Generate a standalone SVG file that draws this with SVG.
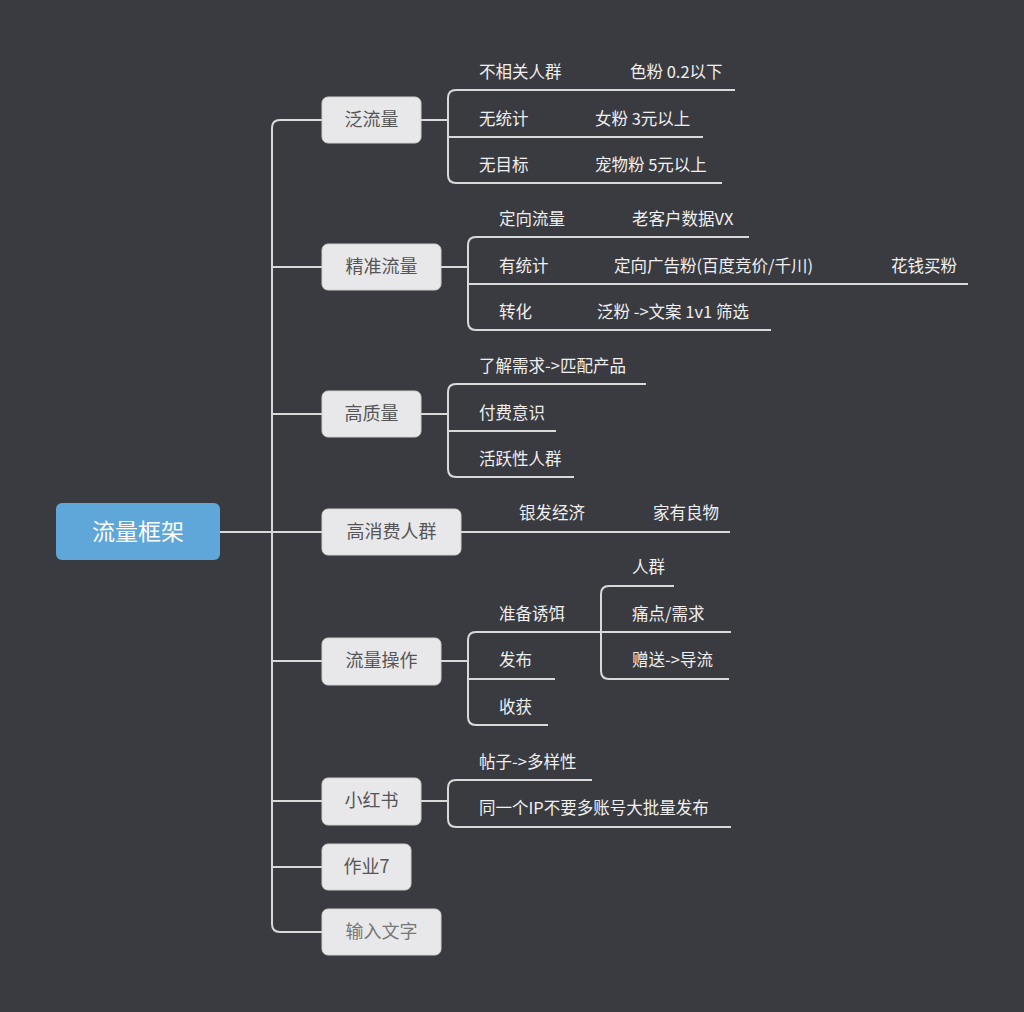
<svg xmlns="http://www.w3.org/2000/svg" width="1024" height="1012" viewBox="0 0 1024 1012">
<style>
.c{fill:none;stroke:#d9d9d9;stroke-width:2}
.n rect{fill:#e8e8ea;stroke:#d0d0d0;stroke-width:1}
.n text{fill:#555;font-size:18px}
text{font-family:"Noto Sans CJK SC","Liberation Sans",sans-serif}
.l{fill:#f0f0f0;font-size:16.5px}
</style>
<rect width="1024" height="1012" fill="#3a3b40"/>
<g id="connectors" class="c">
<path d="M220,532H322"/>
<path d="M322,120H280Q272,120 272,128V924Q272,932 280,932H322"/>
<path d="M272,267H322M272,414H322M272,661H322M272,801H322M272,867H322"/>
<path d="M421,120H448"/>
<path d="M735,90H456Q448,90 448,98V175Q448,183 456,183H722M448,137H703"/>
<path d="M441,267H468"/>
<path d="M749,237H476Q468,237 468,245V322Q468,330 476,330H771M468,284H968"/>
<path d="M421,414H448"/>
<path d="M646,384H456Q448,384 448,392V469Q448,477 456,477H574M448,431H556"/>
<path d="M461,532H730"/>
<path d="M441,661H468"/>
<path d="M731,632H476Q468,632 468,640V717Q468,725 476,725H548M468,679H555"/>
<path d="M674,586H609Q601,586 601,594V671Q601,679 609,679H729"/>
<path d="M421,801H448"/>
<path d="M592,780H456Q448,780 448,788V819Q448,827 456,827H731"/>
</g>
<g id="root"><rect x="56" y="503" width="164" height="57" rx="6" fill="#5fa6d9"/><text x="138" y="540" text-anchor="middle" fill="#fff" font-size="23">流量框架</text></g>
<g id="n1" class="n"><rect x="322" y="97" width="99" height="46" rx="6"/><text x="371.5" y="126" text-anchor="middle">泛流量</text></g>
<g id="n2" class="n"><rect x="322" y="244" width="119" height="46" rx="6"/><text x="381.5" y="273" text-anchor="middle">精准流量</text></g>
<g id="n3" class="n"><rect x="322" y="391" width="99" height="46" rx="6"/><text x="371.5" y="420" text-anchor="middle">高质量</text></g>
<g id="n4" class="n"><rect x="322" y="509" width="139" height="46" rx="6"/><text x="391.5" y="538" text-anchor="middle">高消费人群</text></g>
<g id="n5" class="n"><rect x="322" y="638" width="119" height="47" rx="6"/><text x="381.5" y="667" text-anchor="middle">流量操作</text></g>
<g id="n6" class="n"><rect x="322" y="778" width="99" height="47" rx="6"/><text x="371.5" y="807" text-anchor="middle">小红书</text></g>
<g id="n7" class="n"><rect x="322" y="844" width="89" height="46" rx="6"/><text x="366.5" y="873" text-anchor="middle">作业7</text></g>
<g id="n8" class="n"><rect x="322" y="909" width="119" height="46" rx="6"/><text x="381.5" y="938" text-anchor="middle" style="fill:#777">输入文字</text></g>
<g id="labels" class="l">
<text x="479" y="78">不相关人群</text><text x="630" y="78">色粉 0.2以下</text>
<text x="479" y="125">无统计</text><text x="595" y="125">女粉 3元以上</text>
<text x="479" y="171">无目标</text><text x="595" y="171">宠物粉 5元以上</text>
<text x="499" y="225">定向流量</text><text x="632" y="225">老客户数据VX</text>
<text x="499" y="272">有统计</text><text x="614" y="272">定向广告粉(百度竞价/千川)</text><text x="891" y="272">花钱买粉</text>
<text x="499" y="318">转化</text><text x="597" y="318">泛粉 -&gt;文案 1v1 筛选</text>
<text x="479" y="372">了解需求-&gt;匹配产品</text>
<text x="479" y="419">付费意识</text>
<text x="479" y="465">活跃性人群</text>
<text x="519" y="519">银发经济</text><text x="653" y="519">家有良物</text>
<text x="499" y="620">准备诱饵</text><text x="632" y="573">人群</text><text x="632" y="620">痛点/需求</text><text x="632" y="666">赠送-&gt;导流</text>
<text x="499" y="666">发布</text>
<text x="499" y="713">收获</text>
<text x="479" y="768">帖子-&gt;多样性</text>
<text x="479" y="814">同一个IP不要多账号大批量发布</text>
</g>
</svg>
